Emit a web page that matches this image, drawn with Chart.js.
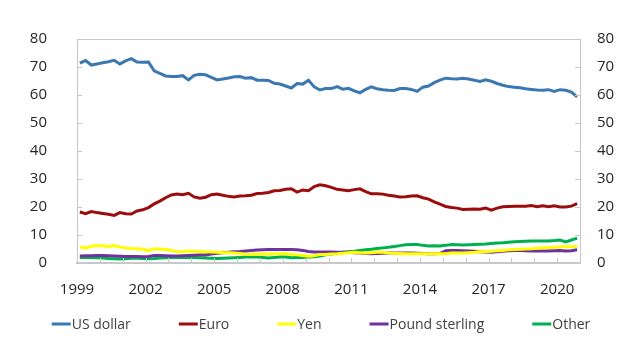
<!DOCTYPE html>
<html>
<head>
<meta charset="utf-8">
<script src="https://cdn.jsdelivr.net/npm/chart.js@4/dist/chart.umd.min.js"></script>
<style>
  html, body { margin: 0; padding: 0; background: #fff; }
  #wrap { width: 639px; height: 345px; }
</style>
</head>
<body>
<div id="wrap"><canvas id="chart" width="639" height="345"></canvas></div>
<script>
// quarterly shares, 1999 Q1 - 2020 Q4
const firstYear = 1999;
const lastYear = 2021;
const yearLabels = ["1999", "2002", "2005", "2008", "2011", "2014", "2017", "2020"];

const seriesNames = ["US dollar", "Euro", "Yen", "Pound sterling", "Other"];
const seriesColors = ["#3b78b2", "#9c0c0c", "#ffff00", "#7030a0", "#00b050"];

const usDollar = [
  71.4, 72.3, 70.7, 71.1, 71.5, 71.9, 72.4, 71.1, 72.2, 73.0, 71.8, 71.7,
  71.8, 68.6, 67.7, 66.8, 66.6, 66.6, 66.9, 65.4, 67.0, 67.4, 67.2, 66.3,
  65.4, 65.7, 66.1, 66.5, 66.6, 66.0, 66.2, 65.3, 65.3, 65.2, 64.2, 63.9,
  63.2, 62.5, 64.1, 63.9, 65.3, 62.9, 61.8, 62.3, 62.3, 63.0, 62.1, 62.4,
  61.5, 60.8, 62.0, 62.9, 62.2, 61.9, 61.7, 61.6, 62.3, 62.3, 62.0, 61.3,
  62.8, 63.2, 64.4, 65.3, 66.0, 65.8, 65.7, 66.0, 65.7, 65.3, 64.8, 65.4,
  64.9, 64.1, 63.5, 63.0, 62.8, 62.6, 62.2, 62.0, 61.8, 61.7, 61.9, 61.3,
  61.9, 61.7, 61.0, 59.3
];
const euro = [
  18.2, 17.6, 18.4, 18.0, 17.7, 17.4, 17.0, 18.0, 17.6, 17.5, 18.6, 19.0,
  19.8, 21.1, 22.1, 23.3, 24.3, 24.6, 24.4, 24.9, 23.6, 23.1, 23.5, 24.4,
  24.6, 24.2, 23.8, 23.6, 23.9, 24.0, 24.2, 24.8, 24.9, 25.2, 25.8, 25.9,
  26.3, 26.5, 25.3, 26.1, 25.8, 27.3, 27.9, 27.6, 27.0, 26.3, 26.1, 25.8,
  26.2, 26.5, 25.5, 24.7, 24.7, 24.6, 24.2, 23.9, 23.6, 23.7, 23.9, 24.0,
  23.3, 22.8, 21.8, 21.0, 20.2, 19.8, 19.6, 19.1, 19.2, 19.3, 19.2, 19.6,
  18.9, 19.6, 20.1, 20.2, 20.3, 20.3, 20.3, 20.5, 20.1, 20.4, 20.1, 20.4,
  20.0, 20.0, 20.3, 21.2
];
const yen = [
  5.8, 5.4, 6.0, 6.2, 6.2, 5.8, 6.2, 5.7, 5.4, 5.2, 5.1, 5.0,
  4.4, 5.1, 5.0, 4.8, 4.6, 4.0, 4.1, 4.3, 4.2, 4.1, 4.0, 3.9,
  3.8, 3.7, 3.7, 3.6, 3.4, 3.1, 3.0, 3.1, 3.2, 3.2, 3.3, 3.3,
  3.4, 3.1, 2.9, 2.7, 2.4, 2.6, 3.0, 3.0, 3.2, 3.3, 3.5, 3.7,
  3.8, 3.7, 3.6, 3.7, 3.8, 3.8, 3.6, 3.5, 3.4, 3.3, 3.3, 3.3,
  3.3, 3.3, 3.3, 3.3, 3.3, 3.6, 3.6, 3.6, 3.7, 3.8, 4.0, 4.1,
  4.2, 4.4, 4.5, 4.7, 4.8, 4.9, 5.0, 5.1, 5.3, 5.4, 5.5, 5.6,
  5.7, 5.8, 5.8, 5.9
];
const poundSterling = [
  2.5, 2.6, 2.6, 2.7, 2.7, 2.6, 2.5, 2.4, 2.3, 2.3, 2.3, 2.2,
  2.3, 2.7, 2.7, 2.6, 2.5, 2.5, 2.6, 2.7, 2.8, 2.9, 2.9, 3.2,
  3.5, 3.7, 3.8, 4.0, 4.1, 4.3, 4.5, 4.6, 4.7, 4.8, 4.8, 4.8,
  4.8, 4.8, 4.7, 4.5, 4.1, 3.9, 3.9, 3.9, 3.9, 3.8, 3.8, 3.8,
  3.7, 3.6, 3.4, 3.3, 3.4, 3.5, 3.6, 3.6, 3.6, 3.6, 3.6, 3.5,
  3.4, 3.3, 3.3, 3.4, 4.4, 4.5, 4.5, 4.4, 4.3, 4.2, 4.0, 3.9,
  3.8, 4.0, 4.2, 4.4, 4.5, 4.5, 4.4, 4.3, 4.3, 4.3, 4.3, 4.4,
  4.5, 4.3, 4.4, 4.7
];
const other = [
  2.0, 2.0, 2.0, 1.9, 1.8, 1.6, 1.5, 1.4, 1.5, 1.7, 1.8, 1.6,
  1.5, 1.6, 1.8, 1.9, 2.0, 2.0, 2.0, 2.0, 2.0, 1.9, 1.8, 1.7,
  1.6, 1.7, 1.8, 1.9, 2.0, 2.1, 2.1, 2.1, 2.0, 1.8, 2.0, 2.1,
  2.1, 1.9, 2.0, 2.0, 2.1, 2.2, 2.5, 2.9, 3.2, 3.5, 3.8, 4.0,
  4.2, 4.5, 4.7, 4.9, 5.2, 5.4, 5.6, 5.9, 6.2, 6.5, 6.6, 6.6,
  6.3, 6.1, 6.2, 6.1, 6.3, 6.6, 6.5, 6.4, 6.5, 6.6, 6.7, 6.8,
  7.0, 7.1, 7.2, 7.4, 7.6, 7.7, 7.8, 7.9, 7.9, 7.9, 7.9, 8.0,
  8.2, 7.5, 8.2, 8.9
];

const allSeries = [usDollar, euro, yen, poundSterling, other];
const FONT = "'Open Sans', 'Noto Sans', sans-serif";
const FRAME = "#c8c8c8";

// each quarter sits in the middle of its slot on the year axis
function toPoints(values) {
  return values.map((v, i) => ({ x: firstYear + i / 4 + 0.125, y: v }));
}

const datasets = allSeries.map((values, k) => ({
  label: seriesNames[k],
  data: toPoints(values),
  borderColor: seriesColors[k],
  backgroundColor: seriesColors[k],
  borderWidth: 3,
  pointRadius: 0,
  tension: 0,
  order: k
}));

// short inward ticks, and the legend underneath
const decorPlugin = {
  id: "decor",
  afterDraw(chart) {
    const c = chart.ctx;
    const a = chart.chartArea;
    const sx = chart.scales.x, sy = chart.scales.y;
    c.save();
    c.strokeStyle = FRAME;
    c.lineWidth = 1;
    c.beginPath();
    sy.ticks.forEach((t) => {
      const py = Math.round(sy.getPixelForValue(t.value)) + 0.5;
      c.moveTo(a.left, py); c.lineTo(a.left + 5, py);
      c.moveTo(a.right - 5, py); c.lineTo(a.right, py);
    });
    sx.ticks.forEach((t) => {
      const px = Math.round(sx.getPixelForValue(t.value)) + 0.5;
      c.moveTo(px, a.bottom); c.lineTo(px, a.bottom - 5);
    });
    c.stroke();

    const lineW = 19, gap = 48, y = 324;
    c.font = "14px " + FONT;
    c.textBaseline = "middle";
    const widths = seriesNames.map((n) => lineW + 1 + c.measureText(n).width);
    const total = widths.reduce((s, w) => s + w, 0) + gap * (widths.length - 1);
    let x = 321 - total / 2;
    seriesNames.forEach((n, k) => {
      c.fillStyle = seriesColors[k];
      c.fillRect(x, y - 1.5, lineW, 3);
      c.fillStyle = "#404040";
      c.fillText(n, x + lineW + 1, y + 1);
      x += widths[k] + gap;
    });
    c.restore();
  }
};

const tickFont = { family: FONT, size: 15 };

const ctx = document.getElementById("chart").getContext("2d");
new Chart(ctx, {
  type: "line",
  data: { datasets: datasets },
  options: {
    responsive: false,
    animation: false,
    layout: { padding: { left: 29, right: 25, top: 31, bottom: 50 } },
    plugins: { legend: { display: false }, tooltip: { enabled: false } },
    scales: {
      x: {
        type: "linear",
        min: firstYear,
        max: lastYear,
        grid: { display: false, drawTicks: false },
        border: { display: true, color: FRAME, width: 2 },
        afterFit: (s) => { s.height = 32; },
        ticks: {
          stepSize: 1,
          autoSkip: false,
          maxRotation: 0,
          padding: 18,
          color: "#262626",
          font: tickFont,
          callback: (v) => (yearLabels.includes(String(v)) ? String(v) : "")
        }
      },
      y: {
        position: "left",
        min: 0,
        max: 80,
        // only the 80 line is kept, it closes the frame at the top
        grid: {
          drawTicks: false,
          color: (c) => (c.tick && c.tick.value === 80 ? FRAME : "rgba(0,0,0,0)")
        },
        border: { display: true, color: FRAME, width: 1 },
        afterFit: (s) => { s.width = 48; },
        ticks: { stepSize: 10, padding: 30, color: "#262626", font: tickFont }
      },
      y2: {
        position: "right",
        min: 0,
        max: 80,
        grid: { display: false, drawTicks: false },
        border: { display: true, color: FRAME, width: 1 },
        afterFit: (s) => { s.width = 34; },
        ticks: { stepSize: 10, padding: 17, color: "#262626", font: tickFont }
      }
    }
  },
  plugins: [decorPlugin]
});
</script>
</body>
</html>
